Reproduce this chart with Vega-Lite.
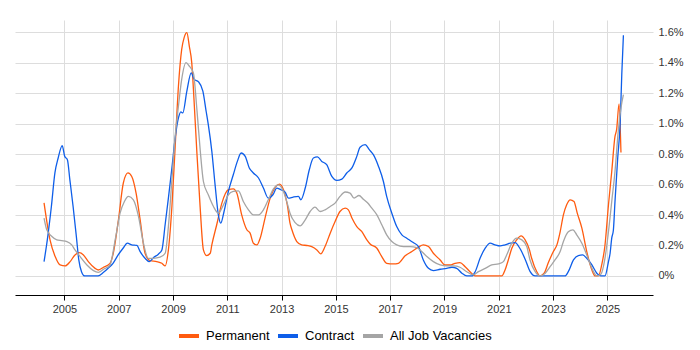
{
  "$schema": "https://vega.github.io/schema/vega-lite/v6.json",
  "width": 638,
  "height": 275,
  "autosize": {"type": "none"},
  "padding": {"left": 15, "top": 20, "right": 47, "bottom": 55},
  "background": "white",
  "config": {
    "view": {"stroke": null},
    "font": "Liberation Sans",
    "axis": {"labelFont": "Liberation Sans", "labelFontSize": 11, "labelColor": "#333333", "gridColor": "#dddddd", "gridWidth": 1},
    "legend": {"labelFont": "Liberation Sans"}
  },
  "data": {"values": [
    {"year": 2004.25, "series": "Permanent", "pct": 0.48},
    {"year": 2004.47, "series": "Permanent", "pct": 0.237},
    {"year": 2004.66, "series": "Permanent", "pct": 0.127},
    {"year": 2004.84, "series": "Permanent", "pct": 0.072},
    {"year": 2005.03, "series": "Permanent", "pct": 0.066},
    {"year": 2005.21, "series": "Permanent", "pct": 0.094},
    {"year": 2005.39, "series": "Permanent", "pct": 0.138},
    {"year": 2005.55, "series": "Permanent", "pct": 0.153},
    {"year": 2005.70, "series": "Permanent", "pct": 0.138},
    {"year": 2005.88, "series": "Permanent", "pct": 0.094},
    {"year": 2006.13, "series": "Permanent", "pct": 0.05},
    {"year": 2006.25, "series": "Permanent", "pct": 0.039},
    {"year": 2006.44, "series": "Permanent", "pct": 0.057},
    {"year": 2006.68, "series": "Permanent", "pct": 0.083},
    {"year": 2006.80, "series": "Permanent", "pct": 0.149},
    {"year": 2006.99, "series": "Permanent", "pct": 0.368},
    {"year": 2007.17, "series": "Permanent", "pct": 0.61},
    {"year": 2007.34, "series": "Permanent", "pct": 0.676},
    {"year": 2007.48, "series": "Permanent", "pct": 0.653},
    {"year": 2007.64, "series": "Permanent", "pct": 0.544},
    {"year": 2007.79, "series": "Permanent", "pct": 0.368},
    {"year": 2007.97, "series": "Permanent", "pct": 0.149},
    {"year": 2008.16, "series": "Permanent", "pct": 0.10},
    {"year": 2008.40, "series": "Permanent", "pct": 0.094},
    {"year": 2008.59, "series": "Permanent", "pct": 0.083},
    {"year": 2008.71, "series": "Permanent", "pct": 0.066},
    {"year": 2008.83, "series": "Permanent", "pct": 0.171},
    {"year": 2008.96, "series": "Permanent", "pct": 0.456},
    {"year": 2009.08, "series": "Permanent", "pct": 0.85},
    {"year": 2009.20, "series": "Permanent", "pct": 1.245},
    {"year": 2009.32, "series": "Permanent", "pct": 1.487},
    {"year": 2009.41, "series": "Permanent", "pct": 1.564},
    {"year": 2009.51, "series": "Permanent", "pct": 1.597},
    {"year": 2009.60, "series": "Permanent", "pct": 1.509},
    {"year": 2009.69, "series": "Permanent", "pct": 1.40},
    {"year": 2009.78, "series": "Permanent", "pct": 1.136},
    {"year": 2009.88, "series": "Permanent", "pct": 0.807},
    {"year": 2010.00, "series": "Permanent", "pct": 0.45},
    {"year": 2010.12, "series": "Permanent", "pct": 0.171},
    {"year": 2010.24, "series": "Permanent", "pct": 0.134},
    {"year": 2010.37, "series": "Permanent", "pct": 0.149},
    {"year": 2010.43, "series": "Permanent", "pct": 0.204},
    {"year": 2010.61, "series": "Permanent", "pct": 0.336},
    {"year": 2010.80, "series": "Permanent", "pct": 0.478},
    {"year": 2011.04, "series": "Permanent", "pct": 0.566},
    {"year": 2011.22, "series": "Permanent", "pct": 0.572},
    {"year": 2011.35, "series": "Permanent", "pct": 0.544},
    {"year": 2011.53, "series": "Permanent", "pct": 0.401},
    {"year": 2011.72, "series": "Permanent", "pct": 0.303},
    {"year": 2011.84, "series": "Permanent", "pct": 0.281},
    {"year": 2011.96, "series": "Permanent", "pct": 0.215},
    {"year": 2012.09, "series": "Permanent", "pct": 0.204},
    {"year": 2012.21, "series": "Permanent", "pct": 0.248},
    {"year": 2012.39, "series": "Permanent", "pct": 0.38},
    {"year": 2012.58, "series": "Permanent", "pct": 0.511},
    {"year": 2012.76, "series": "Permanent", "pct": 0.581},
    {"year": 2012.92, "series": "Permanent", "pct": 0.603},
    {"year": 2013.07, "series": "Permanent", "pct": 0.566},
    {"year": 2013.21, "series": "Permanent", "pct": 0.467},
    {"year": 2013.31, "series": "Permanent", "pct": 0.347},
    {"year": 2013.38, "series": "Permanent", "pct": 0.303},
    {"year": 2013.56, "series": "Permanent", "pct": 0.226},
    {"year": 2013.74, "series": "Permanent", "pct": 0.204},
    {"year": 2013.93, "series": "Permanent", "pct": 0.2},
    {"year": 2014.11, "series": "Permanent", "pct": 0.193},
    {"year": 2014.30, "series": "Permanent", "pct": 0.171},
    {"year": 2014.44, "series": "Permanent", "pct": 0.145},
    {"year": 2014.60, "series": "Permanent", "pct": 0.193},
    {"year": 2014.79, "series": "Permanent", "pct": 0.281},
    {"year": 2014.97, "series": "Permanent", "pct": 0.357},
    {"year": 2015.15, "series": "Permanent", "pct": 0.423},
    {"year": 2015.34, "series": "Permanent", "pct": 0.445},
    {"year": 2015.46, "series": "Permanent", "pct": 0.434},
    {"year": 2015.59, "series": "Permanent", "pct": 0.38},
    {"year": 2015.77, "series": "Permanent", "pct": 0.324},
    {"year": 2015.95, "series": "Permanent", "pct": 0.292},
    {"year": 2016.14, "series": "Permanent", "pct": 0.237},
    {"year": 2016.26, "series": "Permanent", "pct": 0.21},
    {"year": 2016.51, "series": "Permanent", "pct": 0.182},
    {"year": 2016.69, "series": "Permanent", "pct": 0.127},
    {"year": 2016.87, "series": "Permanent", "pct": 0.083},
    {"year": 2017.12, "series": "Permanent", "pct": 0.079},
    {"year": 2017.30, "series": "Permanent", "pct": 0.083},
    {"year": 2017.55, "series": "Permanent", "pct": 0.132},
    {"year": 2017.80, "series": "Permanent", "pct": 0.16},
    {"year": 2018.04, "series": "Permanent", "pct": 0.189},
    {"year": 2018.22, "series": "Permanent", "pct": 0.204},
    {"year": 2018.41, "series": "Permanent", "pct": 0.193},
    {"year": 2018.59, "series": "Permanent", "pct": 0.149},
    {"year": 2018.84, "series": "Permanent", "pct": 0.105},
    {"year": 2019.02, "series": "Permanent", "pct": 0.072},
    {"year": 2019.20, "series": "Permanent", "pct": 0.072},
    {"year": 2019.39, "series": "Permanent", "pct": 0.083},
    {"year": 2019.57, "series": "Permanent", "pct": 0.088},
    {"year": 2019.76, "series": "Permanent", "pct": 0.061},
    {"year": 2019.94, "series": "Permanent", "pct": 0.028},
    {"year": 2020.13, "series": "Permanent", "pct": 0},
    {"year": 2020.31, "series": "Permanent", "pct": 0},
    {"year": 2021.11, "series": "Permanent", "pct": 0},
    {"year": 2021.23, "series": "Permanent", "pct": 0.039},
    {"year": 2021.35, "series": "Permanent", "pct": 0.105},
    {"year": 2021.48, "series": "Permanent", "pct": 0.182},
    {"year": 2021.66, "series": "Permanent", "pct": 0.237},
    {"year": 2021.82, "series": "Permanent", "pct": 0.263},
    {"year": 2021.97, "series": "Permanent", "pct": 0.237},
    {"year": 2022.13, "series": "Permanent", "pct": 0.171},
    {"year": 2022.21, "series": "Permanent", "pct": 0.116},
    {"year": 2022.40, "series": "Permanent", "pct": 0.028},
    {"year": 2022.52, "series": "Permanent", "pct": 0},
    {"year": 2022.67, "series": "Permanent", "pct": 0.018},
    {"year": 2022.83, "series": "Permanent", "pct": 0.09},
    {"year": 2023.01, "series": "Permanent", "pct": 0.16},
    {"year": 2023.14, "series": "Permanent", "pct": 0.204},
    {"year": 2023.26, "series": "Permanent", "pct": 0.29},
    {"year": 2023.38, "series": "Permanent", "pct": 0.401},
    {"year": 2023.50, "series": "Permanent", "pct": 0.467},
    {"year": 2023.63, "series": "Permanent", "pct": 0.50},
    {"year": 2023.77, "series": "Permanent", "pct": 0.489},
    {"year": 2023.89, "series": "Permanent", "pct": 0.412},
    {"year": 2024.06, "series": "Permanent", "pct": 0.314},
    {"year": 2024.24, "series": "Permanent", "pct": 0.16},
    {"year": 2024.43, "series": "Permanent", "pct": 0.039},
    {"year": 2024.55, "series": "Permanent", "pct": 0},
    {"year": 2024.67, "series": "Permanent", "pct": 0},
    {"year": 2024.79, "series": "Permanent", "pct": 0.072},
    {"year": 2024.91, "series": "Permanent", "pct": 0.2},
    {"year": 2025.04, "series": "Permanent", "pct": 0.467},
    {"year": 2025.16, "series": "Permanent", "pct": 0.686},
    {"year": 2025.28, "series": "Permanent", "pct": 0.916},
    {"year": 2025.34, "series": "Permanent", "pct": 0.96},
    {"year": 2025.43, "series": "Permanent", "pct": 1.13},
    {"year": 2025.50, "series": "Permanent", "pct": 0.81},

    {"year": 2004.25, "series": "Contract", "pct": 0.094},
    {"year": 2004.37, "series": "Contract", "pct": 0.237},
    {"year": 2004.52, "series": "Contract", "pct": 0.456},
    {"year": 2004.65, "series": "Contract", "pct": 0.676},
    {"year": 2004.77, "series": "Contract", "pct": 0.774},
    {"year": 2004.92, "series": "Contract", "pct": 0.855},
    {"year": 2005.01, "series": "Contract", "pct": 0.785},
    {"year": 2005.11, "series": "Contract", "pct": 0.763},
    {"year": 2005.20, "series": "Contract", "pct": 0.632},
    {"year": 2005.32, "series": "Contract", "pct": 0.456},
    {"year": 2005.44, "series": "Contract", "pct": 0.259},
    {"year": 2005.53, "series": "Contract", "pct": 0.105},
    {"year": 2005.63, "series": "Contract", "pct": 0.028},
    {"year": 2005.75, "series": "Contract", "pct": 0},
    {"year": 2006.24, "series": "Contract", "pct": 0},
    {"year": 2006.43, "series": "Contract", "pct": 0.022},
    {"year": 2006.61, "series": "Contract", "pct": 0.05},
    {"year": 2006.79, "series": "Contract", "pct": 0.083},
    {"year": 2006.98, "series": "Contract", "pct": 0.138},
    {"year": 2007.16, "series": "Contract", "pct": 0.182},
    {"year": 2007.32, "series": "Contract", "pct": 0.215},
    {"year": 2007.48, "series": "Contract", "pct": 0.204},
    {"year": 2007.67, "series": "Contract", "pct": 0.2},
    {"year": 2007.79, "series": "Contract", "pct": 0.16},
    {"year": 2007.97, "series": "Contract", "pct": 0.116},
    {"year": 2008.13, "series": "Contract", "pct": 0.094},
    {"year": 2008.28, "series": "Contract", "pct": 0.12},
    {"year": 2008.46, "series": "Contract", "pct": 0.143},
    {"year": 2008.59, "series": "Contract", "pct": 0.171},
    {"year": 2008.71, "series": "Contract", "pct": 0.336},
    {"year": 2008.83, "series": "Contract", "pct": 0.511},
    {"year": 2008.96, "series": "Contract", "pct": 0.709},
    {"year": 2009.08, "series": "Contract", "pct": 0.906},
    {"year": 2009.20, "series": "Contract", "pct": 1.037},
    {"year": 2009.29, "series": "Contract", "pct": 1.077},
    {"year": 2009.36, "series": "Contract", "pct": 1.07},
    {"year": 2009.51, "series": "Contract", "pct": 1.213},
    {"year": 2009.67, "series": "Contract", "pct": 1.333},
    {"year": 2009.78, "series": "Contract", "pct": 1.29},
    {"year": 2009.94, "series": "Contract", "pct": 1.274},
    {"year": 2010.10, "series": "Contract", "pct": 1.213},
    {"year": 2010.22, "series": "Contract", "pct": 1.081},
    {"year": 2010.30, "series": "Contract", "pct": 0.993},
    {"year": 2010.43, "series": "Contract", "pct": 0.818},
    {"year": 2010.55, "series": "Contract", "pct": 0.598},
    {"year": 2010.67, "series": "Contract", "pct": 0.401},
    {"year": 2010.76, "series": "Contract", "pct": 0.347},
    {"year": 2010.88, "series": "Contract", "pct": 0.423},
    {"year": 2011.04, "series": "Contract", "pct": 0.555},
    {"year": 2011.22, "series": "Contract", "pct": 0.664},
    {"year": 2011.37, "series": "Contract", "pct": 0.752},
    {"year": 2011.51, "series": "Contract", "pct": 0.807},
    {"year": 2011.66, "series": "Contract", "pct": 0.785},
    {"year": 2011.81, "series": "Contract", "pct": 0.709},
    {"year": 2011.96, "series": "Contract", "pct": 0.676},
    {"year": 2012.15, "series": "Contract", "pct": 0.643},
    {"year": 2012.33, "series": "Contract", "pct": 0.577},
    {"year": 2012.51, "series": "Contract", "pct": 0.511},
    {"year": 2012.68, "series": "Contract", "pct": 0.533},
    {"year": 2012.82, "series": "Contract", "pct": 0.577},
    {"year": 2012.97, "series": "Contract", "pct": 0.566},
    {"year": 2013.13, "series": "Contract", "pct": 0.55},
    {"year": 2013.25, "series": "Contract", "pct": 0.511},
    {"year": 2013.43, "series": "Contract", "pct": 0.518},
    {"year": 2013.62, "series": "Contract", "pct": 0.522},
    {"year": 2013.71, "series": "Contract", "pct": 0.5},
    {"year": 2013.87, "series": "Contract", "pct": 0.577},
    {"year": 2014.02, "series": "Contract", "pct": 0.697},
    {"year": 2014.17, "series": "Contract", "pct": 0.774},
    {"year": 2014.32, "series": "Contract", "pct": 0.781},
    {"year": 2014.48, "series": "Contract", "pct": 0.752},
    {"year": 2014.66, "series": "Contract", "pct": 0.73},
    {"year": 2014.85, "series": "Contract", "pct": 0.653},
    {"year": 2015.03, "series": "Contract", "pct": 0.627},
    {"year": 2015.22, "series": "Contract", "pct": 0.636},
    {"year": 2015.40, "series": "Contract", "pct": 0.676},
    {"year": 2015.59, "series": "Contract", "pct": 0.709},
    {"year": 2015.77, "series": "Contract", "pct": 0.785},
    {"year": 2015.89, "series": "Contract", "pct": 0.845},
    {"year": 2016.08, "series": "Contract", "pct": 0.862},
    {"year": 2016.23, "series": "Contract", "pct": 0.829},
    {"year": 2016.38, "series": "Contract", "pct": 0.796},
    {"year": 2016.57, "series": "Contract", "pct": 0.719},
    {"year": 2016.75, "series": "Contract", "pct": 0.62},
    {"year": 2016.87, "series": "Contract", "pct": 0.522},
    {"year": 2017.06, "series": "Contract", "pct": 0.412},
    {"year": 2017.24, "series": "Contract", "pct": 0.324},
    {"year": 2017.43, "series": "Contract", "pct": 0.27},
    {"year": 2017.61, "series": "Contract", "pct": 0.248},
    {"year": 2017.85, "series": "Contract", "pct": 0.219},
    {"year": 2018.04, "series": "Contract", "pct": 0.193},
    {"year": 2018.22, "series": "Contract", "pct": 0.105},
    {"year": 2018.41, "series": "Contract", "pct": 0.05},
    {"year": 2018.59, "series": "Contract", "pct": 0.035},
    {"year": 2018.84, "series": "Contract", "pct": 0.044},
    {"year": 2019.08, "series": "Contract", "pct": 0.05},
    {"year": 2019.27, "series": "Contract", "pct": 0.057},
    {"year": 2019.45, "series": "Contract", "pct": 0.05},
    {"year": 2019.64, "series": "Contract", "pct": 0.018},
    {"year": 2019.82, "series": "Contract", "pct": 0},
    {"year": 2020.01, "series": "Contract", "pct": 0},
    {"year": 2020.13, "series": "Contract", "pct": 0.028},
    {"year": 2020.31, "series": "Contract", "pct": 0.116},
    {"year": 2020.50, "series": "Contract", "pct": 0.182},
    {"year": 2020.68, "series": "Contract", "pct": 0.215},
    {"year": 2020.86, "series": "Contract", "pct": 0.204},
    {"year": 2021.05, "series": "Contract", "pct": 0.197},
    {"year": 2021.23, "series": "Contract", "pct": 0.204},
    {"year": 2021.42, "series": "Contract", "pct": 0.215},
    {"year": 2021.60, "series": "Contract", "pct": 0.219},
    {"year": 2021.78, "series": "Contract", "pct": 0.18},
    {"year": 2021.97, "series": "Contract", "pct": 0.11},
    {"year": 2022.15, "series": "Contract", "pct": 0.03},
    {"year": 2022.34, "series": "Contract", "pct": 0},
    {"year": 2023.44, "series": "Contract", "pct": 0},
    {"year": 2023.56, "series": "Contract", "pct": 0.028},
    {"year": 2023.75, "series": "Contract", "pct": 0.105},
    {"year": 2023.93, "series": "Contract", "pct": 0.134},
    {"year": 2024.09, "series": "Contract", "pct": 0.138},
    {"year": 2024.24, "series": "Contract", "pct": 0.116},
    {"year": 2024.43, "series": "Contract", "pct": 0.072},
    {"year": 2024.61, "series": "Contract", "pct": 0.018},
    {"year": 2024.76, "series": "Contract", "pct": 0},
    {"year": 2024.91, "series": "Contract", "pct": 0},
    {"year": 2025.04, "series": "Contract", "pct": 0.094},
    {"year": 2025.10, "series": "Contract", "pct": 0.149},
    {"year": 2025.16, "series": "Contract", "pct": 0.248},
    {"year": 2025.22, "series": "Contract", "pct": 0.3},
    {"year": 2025.28, "series": "Contract", "pct": 0.489},
    {"year": 2025.38, "series": "Contract", "pct": 0.774},
    {"year": 2025.47, "series": "Contract", "pct": 1.0},
    {"year": 2025.53, "series": "Contract", "pct": 1.322},
    {"year": 2025.59, "series": "Contract", "pct": 1.58},

    {"year": 2004.25, "series": "All Job Vacancies", "pct": 0.38},
    {"year": 2004.35, "series": "All Job Vacancies", "pct": 0.303},
    {"year": 2004.54, "series": "All Job Vacancies", "pct": 0.259},
    {"year": 2004.72, "series": "All Job Vacancies", "pct": 0.237},
    {"year": 2004.90, "series": "All Job Vacancies", "pct": 0.232},
    {"year": 2005.09, "series": "All Job Vacancies", "pct": 0.226},
    {"year": 2005.27, "series": "All Job Vacancies", "pct": 0.204},
    {"year": 2005.39, "series": "All Job Vacancies", "pct": 0.171},
    {"year": 2005.58, "series": "All Job Vacancies", "pct": 0.127},
    {"year": 2005.83, "series": "All Job Vacancies", "pct": 0.072},
    {"year": 2006.07, "series": "All Job Vacancies", "pct": 0.035},
    {"year": 2006.25, "series": "All Job Vacancies", "pct": 0.024},
    {"year": 2006.44, "series": "All Job Vacancies", "pct": 0.044},
    {"year": 2006.68, "series": "All Job Vacancies", "pct": 0.072},
    {"year": 2006.87, "series": "All Job Vacancies", "pct": 0.237},
    {"year": 2007.05, "series": "All Job Vacancies", "pct": 0.412},
    {"year": 2007.21, "series": "All Job Vacancies", "pct": 0.489},
    {"year": 2007.36, "series": "All Job Vacancies", "pct": 0.522},
    {"year": 2007.54, "series": "All Job Vacancies", "pct": 0.5},
    {"year": 2007.73, "series": "All Job Vacancies", "pct": 0.39},
    {"year": 2007.91, "series": "All Job Vacancies", "pct": 0.215},
    {"year": 2008.09, "series": "All Job Vacancies", "pct": 0.116},
    {"year": 2008.28, "series": "All Job Vacancies", "pct": 0.116},
    {"year": 2008.52, "series": "All Job Vacancies", "pct": 0.123},
    {"year": 2008.71, "series": "All Job Vacancies", "pct": 0.149},
    {"year": 2008.83, "series": "All Job Vacancies", "pct": 0.324},
    {"year": 2008.96, "series": "All Job Vacancies", "pct": 0.632},
    {"year": 2009.08, "series": "All Job Vacancies", "pct": 0.916},
    {"year": 2009.20, "series": "All Job Vacancies", "pct": 1.114},
    {"year": 2009.32, "series": "All Job Vacancies", "pct": 1.29},
    {"year": 2009.48, "series": "All Job Vacancies", "pct": 1.40},
    {"year": 2009.60, "series": "All Job Vacancies", "pct": 1.377},
    {"year": 2009.75, "series": "All Job Vacancies", "pct": 1.333},
    {"year": 2009.88, "series": "All Job Vacancies", "pct": 1.092},
    {"year": 2010.00, "series": "All Job Vacancies", "pct": 0.83},
    {"year": 2010.12, "series": "All Job Vacancies", "pct": 0.62},
    {"year": 2010.30, "series": "All Job Vacancies", "pct": 0.533},
    {"year": 2010.49, "series": "All Job Vacancies", "pct": 0.456},
    {"year": 2010.67, "series": "All Job Vacancies", "pct": 0.412},
    {"year": 2010.86, "series": "All Job Vacancies", "pct": 0.467},
    {"year": 2011.04, "series": "All Job Vacancies", "pct": 0.533},
    {"year": 2011.22, "series": "All Job Vacancies", "pct": 0.555},
    {"year": 2011.41, "series": "All Job Vacancies", "pct": 0.559},
    {"year": 2011.59, "series": "All Job Vacancies", "pct": 0.489},
    {"year": 2011.78, "series": "All Job Vacancies", "pct": 0.434},
    {"year": 2011.96, "series": "All Job Vacancies", "pct": 0.401},
    {"year": 2012.15, "series": "All Job Vacancies", "pct": 0.401},
    {"year": 2012.33, "series": "All Job Vacancies", "pct": 0.434},
    {"year": 2012.51, "series": "All Job Vacancies", "pct": 0.5},
    {"year": 2012.70, "series": "All Job Vacancies", "pct": 0.572},
    {"year": 2012.88, "series": "All Job Vacancies", "pct": 0.598},
    {"year": 2013.07, "series": "All Job Vacancies", "pct": 0.555},
    {"year": 2013.25, "series": "All Job Vacancies", "pct": 0.45},
    {"year": 2013.31, "series": "All Job Vacancies", "pct": 0.412},
    {"year": 2013.50, "series": "All Job Vacancies", "pct": 0.35},
    {"year": 2013.68, "series": "All Job Vacancies", "pct": 0.329},
    {"year": 2013.87, "series": "All Job Vacancies", "pct": 0.368},
    {"year": 2014.05, "series": "All Job Vacancies", "pct": 0.423},
    {"year": 2014.23, "series": "All Job Vacancies", "pct": 0.452},
    {"year": 2014.42, "series": "All Job Vacancies", "pct": 0.423},
    {"year": 2014.60, "series": "All Job Vacancies", "pct": 0.434},
    {"year": 2014.79, "series": "All Job Vacancies", "pct": 0.456},
    {"year": 2014.97, "series": "All Job Vacancies", "pct": 0.478},
    {"year": 2015.15, "series": "All Job Vacancies", "pct": 0.522},
    {"year": 2015.34, "series": "All Job Vacancies", "pct": 0.551},
    {"year": 2015.52, "series": "All Job Vacancies", "pct": 0.544},
    {"year": 2015.67, "series": "All Job Vacancies", "pct": 0.511},
    {"year": 2015.85, "series": "All Job Vacancies", "pct": 0.528},
    {"year": 2016.01, "series": "All Job Vacancies", "pct": 0.504},
    {"year": 2016.20, "series": "All Job Vacancies", "pct": 0.474},
    {"year": 2016.30, "series": "All Job Vacancies", "pct": 0.45},
    {"year": 2016.51, "series": "All Job Vacancies", "pct": 0.401},
    {"year": 2016.69, "series": "All Job Vacancies", "pct": 0.336},
    {"year": 2016.87, "series": "All Job Vacancies", "pct": 0.27},
    {"year": 2017.06, "series": "All Job Vacancies", "pct": 0.226},
    {"year": 2017.24, "series": "All Job Vacancies", "pct": 0.204},
    {"year": 2017.49, "series": "All Job Vacancies", "pct": 0.193},
    {"year": 2017.73, "series": "All Job Vacancies", "pct": 0.193},
    {"year": 2017.98, "series": "All Job Vacancies", "pct": 0.186},
    {"year": 2018.16, "series": "All Job Vacancies", "pct": 0.16},
    {"year": 2018.35, "series": "All Job Vacancies", "pct": 0.127},
    {"year": 2018.59, "series": "All Job Vacancies", "pct": 0.094},
    {"year": 2018.84, "series": "All Job Vacancies", "pct": 0.072},
    {"year": 2019.08, "series": "All Job Vacancies", "pct": 0.066},
    {"year": 2019.33, "series": "All Job Vacancies", "pct": 0.066},
    {"year": 2019.57, "series": "All Job Vacancies", "pct": 0.057},
    {"year": 2019.82, "series": "All Job Vacancies", "pct": 0.028},
    {"year": 2020.06, "series": "All Job Vacancies", "pct": 0.007},
    {"year": 2020.25, "series": "All Job Vacancies", "pct": 0.028},
    {"year": 2020.50, "series": "All Job Vacancies", "pct": 0.05},
    {"year": 2020.74, "series": "All Job Vacancies", "pct": 0.072},
    {"year": 2020.99, "series": "All Job Vacancies", "pct": 0.079},
    {"year": 2021.17, "series": "All Job Vacancies", "pct": 0.094},
    {"year": 2021.29, "series": "All Job Vacancies", "pct": 0.138},
    {"year": 2021.48, "series": "All Job Vacancies", "pct": 0.215},
    {"year": 2021.66, "series": "All Job Vacancies", "pct": 0.248},
    {"year": 2021.85, "series": "All Job Vacancies", "pct": 0.237},
    {"year": 2022.03, "series": "All Job Vacancies", "pct": 0.193},
    {"year": 2022.15, "series": "All Job Vacancies", "pct": 0.105},
    {"year": 2022.34, "series": "All Job Vacancies", "pct": 0.028},
    {"year": 2022.52, "series": "All Job Vacancies", "pct": 0},
    {"year": 2022.71, "series": "All Job Vacancies", "pct": 0.018},
    {"year": 2022.89, "series": "All Job Vacancies", "pct": 0.061},
    {"year": 2023.07, "series": "All Job Vacancies", "pct": 0.105},
    {"year": 2023.26, "series": "All Job Vacancies", "pct": 0.16},
    {"year": 2023.38, "series": "All Job Vacancies", "pct": 0.226},
    {"year": 2023.56, "series": "All Job Vacancies", "pct": 0.29},
    {"year": 2023.73, "series": "All Job Vacancies", "pct": 0.303},
    {"year": 2023.87, "series": "All Job Vacancies", "pct": 0.27},
    {"year": 2024.06, "series": "All Job Vacancies", "pct": 0.215},
    {"year": 2024.24, "series": "All Job Vacancies", "pct": 0.138},
    {"year": 2024.43, "series": "All Job Vacancies", "pct": 0.05},
    {"year": 2024.61, "series": "All Job Vacancies", "pct": 0},
    {"year": 2024.76, "series": "All Job Vacancies", "pct": 0.011},
    {"year": 2024.91, "series": "All Job Vacancies", "pct": 0.116},
    {"year": 2025.04, "series": "All Job Vacancies", "pct": 0.29},
    {"year": 2025.16, "series": "All Job Vacancies", "pct": 0.489},
    {"year": 2025.28, "series": "All Job Vacancies", "pct": 0.686},
    {"year": 2025.40, "series": "All Job Vacancies", "pct": 0.949},
    {"year": 2025.50, "series": "All Job Vacancies", "pct": 1.103},
    {"year": 2025.59, "series": "All Job Vacancies", "pct": 1.19}
  ]},
  "mark": {"type": "line", "strokeWidth": 1.3, "interpolate": "monotone"},
  "encoding": {
    "x": {
      "field": "year", "type": "quantitative",
      "scale": {"domain": [2003.18, 2026.68], "nice": false, "zero": false},
      "axis": {
        "values": [2005, 2007, 2009, 2011, 2013, 2015, 2017, 2019, 2021, 2023, 2025],
        "format": "d", "title": null, "grid": true,
        "domainColor": "#000000", "tickColor": "#000000", "tickSize": 5,
        "labelPadding": 3, "labelFlush": false
      }
    },
    "y": {
      "field": "pct", "type": "quantitative",
      "scale": {"domain": [-0.125, 1.68], "nice": false, "zero": false},
      "axis": {
        "orient": "right",
        "values": [0, 0.2, 0.4, 0.6, 0.8, 1.0, 1.2, 1.4, 1.6],
        "labelExpr": "datum.value == 0 ? '0%' : format(datum.value, '.1f') + '%'",
        "domain": false, "ticks": false, "title": null, "labelPadding": 5
      }
    },
    "color": {
      "field": "series", "type": "nominal",
      "scale": {"domain": ["Permanent", "Contract", "All Job Vacancies"], "range": ["#ff5b0f", "#0e5ee9", "#a5a5a5"]},
      "legend": {
        "orient": "none", "legendX": 162, "legendY": 304, "direction": "horizontal", "title": null,
        "symbolType": "stroke", "symbolStrokeWidth": 4, "symbolSize": 400,
        "labelFontSize": 13, "labelColor": "#000000", "labelOffset": 5,
        "columnPadding": 0
      }
    }
  }
}
